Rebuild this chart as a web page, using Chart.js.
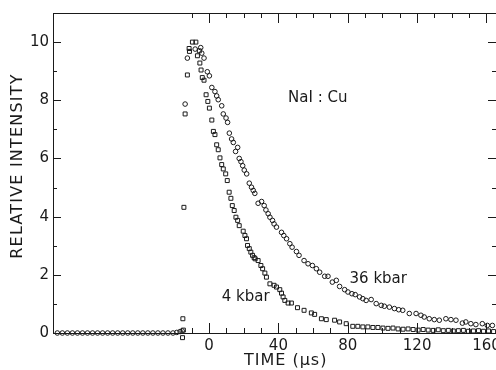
<!DOCTYPE html>
<html>
<head>
<meta charset="utf-8">
<script src="https://cdn.jsdelivr.net/npm/chart.js@4.4.1/dist/chart.umd.min.js"></script>
<style>
  html, body { margin: 0; padding: 0; background: #fff; }
  canvas { display: block; }
</style>
</head>
<body>
<canvas id="decayChart" width="496" height="370"></canvas>
<script>
/* Data: NaI:Cu luminescence decay */

// 36 kbar (circles)
const time36 = [
  -87.5, -84.6, -81.7, -78.8, -75.9, -73.0, -70.1, -67.2, -64.3, -61.4, -58.5, -55.6, -52.7,
  -49.8, -46.9, -44.0, -41.1, -38.2, -35.3, -32.4, -29.5, -26.6, -23.7, -20.8, -18.6, -16.7,
  -15.5, -13.8, -12.5, -8.0, -4.8, -4.2, -2.9, -1.0, 0.2, 1.6, 3.4, 4.4, 5.3, 7.3, 8.2, 9.8,
  10.7, 11.7, 13.0, 14.0, 15.3, 16.5, 17.4, 18.4, 19.4, 20.3, 21.7, 23.2, 24.5, 25.5, 26.4,
  28.3, 30.3, 31.8, 32.8, 34.1, 35.1, 36.6, 37.5, 38.9, 41.8, 43.1, 44.7, 46.6, 47.9, 50.4,
  51.9, 54.8, 57.1, 59.6, 61.9, 63.8, 66.7, 68.6, 71.1, 73.4, 75.3, 78.2, 80.1, 82.4, 84.3,
  86.8, 88.7, 90.6, 93.5, 96.4, 99.3, 101.1, 104.0, 106.9, 109.4, 111.7, 115.5, 119.4, 122.2,
  124.1, 127.0, 129.9, 132.8, 136.6, 139.5, 142.4, 146.1, 148.1, 151.0, 153.9, 157.6, 160.5, 163.4
];
const intensity36 = [
  0.0, 0.0, 0.0, 0.0, 0.0, 0.0, 0.0, 0.0, 0.0, 0.0, 0.0, 0.0, 0.0,
  0.0, 0.0, 0.0, 0.0, 0.0, 0.0, 0.0, 0.0, 0.0, 0.0, 0.0, 0.02, 0.05,
  0.07, 7.87, 9.45, 9.76, 9.81, 9.62, 9.45, 8.98, 8.84, 8.44, 8.30, 8.15, 8.02, 7.81, 7.53, 7.39,
  7.24, 6.87, 6.67, 6.55, 6.24, 6.38, 6.00, 5.89, 5.75, 5.60, 5.47, 5.15, 5.01, 4.90, 4.80,
  4.46, 4.52, 4.38, 4.23, 4.10, 3.98, 3.87, 3.75, 3.64, 3.46, 3.35, 3.24, 3.07, 2.95, 2.80,
  2.67, 2.49, 2.38, 2.32, 2.21, 2.09, 1.95, 1.95, 1.75, 1.81, 1.60, 1.49, 1.41, 1.35, 1.32,
  1.24, 1.18, 1.12, 1.15, 1.01, 0.95, 0.92, 0.89, 0.84, 0.80, 0.78, 0.67, 0.67, 0.61,
  0.55, 0.49, 0.46, 0.44, 0.49, 0.46, 0.44, 0.34, 0.38, 0.32, 0.29, 0.32, 0.26, 0.26
];

// 4 kbar (squares)
const time4 = [
  -15.3, -15.1, -14.8, -14.5, -13.8, -12.5, -11.5, -11.3, -9.6, -7.6, -6.7, -5.6, -5.3, -4.6,
  -3.9, -2.9, -1.7, -0.7, 0.2, 1.6, 2.5, 3.4, 4.4, 5.3, 6.3, 7.3, 8.2, 9.6, 10.5, 11.6, 12.6,
  13.4, 14.5, 15.5, 16.5, 17.4, 19.7, 20.7, 21.6, 22.2, 23.2, 24.1, 25.1, 26.0, 26.6, 28.3,
  29.9, 30.9, 32.2, 33.1, 35.1, 37.5, 38.9, 40.8, 41.8, 42.7, 43.7, 45.6, 47.5, 51.0, 54.8,
  59.0, 60.9, 64.8, 67.6, 72.4, 75.3, 79.1, 82.9, 85.8, 88.7, 91.6, 94.5, 97.4, 100.3, 103.2,
  106.1, 109.0, 111.9, 114.8, 117.7, 120.6, 123.5, 126.4, 129.3, 132.2, 135.1, 138.0, 140.9,
  143.8, 146.7, 149.6, 152.5, 155.4, 158.3, 161.2, 164.1
];
const intensity4 = [
  -0.16, 0.49, 0.10, 4.32, 7.53, 8.87, 9.78, 9.68, 10.0, 10.0, 9.53, 9.70, 9.28, 9.04,
  8.78, 8.69, 8.19, 7.96, 7.73, 7.32, 6.93, 6.82, 6.47, 6.30, 6.02, 5.79, 5.64, 5.47, 5.24, 4.84, 4.63,
  4.38, 4.21, 3.98, 3.87, 3.69, 3.50, 3.35, 3.24, 3.01, 2.90, 2.78, 2.67, 2.59, 2.55, 2.49,
  2.32, 2.21, 2.06, 1.92, 1.69, 1.64, 1.58, 1.49, 1.37, 1.24, 1.12, 1.03, 1.03, 0.87, 0.78,
  0.69, 0.64, 0.49, 0.46, 0.44, 0.38, 0.32, 0.23, 0.23, 0.21, 0.21, 0.19, 0.19, 0.17, 0.16,
  0.17, 0.14, 0.13, 0.14, 0.12, 0.10, 0.12, 0.10, 0.09, 0.11, 0.08, 0.09, 0.07,
  0.08, 0.09, 0.06, 0.07, 0.08, 0.06, 0.07, 0.05
];

// tick values
const xMajorTicks = [0, 40, 80, 120, 160];
const xMinorTicks = [-10, 10, 20, 30, 50, 60, 70, 90, 100, 110, 130, 140, 150];
const yMajorTicks = [0, 2, 4, 6, 8, 10];
const yMinorTicks = [1, 3, 5, 7, 9];

// text labels inside the plot
const plotLabels = [
  { text: 'NaI : Cu', x: 62.7, y: 8.07 },
  { text: '36 kbar', x: 97.6, y: 1.85 },
  { text: '4 kbar', x: 21.1, y: 1.24 }
];

const ink = '#1a1a1a';
const fontFamily = '"DejaVu Sans", sans-serif';

function toPoints(xs, ys) {
  return xs.map((v, i) => ({ x: v, y: ys[i] }));
}

// inward tick marks, top frame line, titles and annotations
const frameTicks = {
  id: 'frameTicks',
  afterDraw(chart) {
    const { ctx, chartArea: a, scales: { x, y } } = chart;
    ctx.save();
    ctx.strokeStyle = ink;
    ctx.lineWidth = 1;
    ctx.beginPath();
    ctx.moveTo(a.left, a.top + 0.5);
    ctx.lineTo(a.right, a.top + 0.5);

    const xTick = (v, len) => {
      const px = Math.round(x.getPixelForValue(v)) + 0.5;
      ctx.moveTo(px, a.bottom); ctx.lineTo(px, a.bottom - len);
      ctx.moveTo(px, a.top); ctx.lineTo(px, a.top + len);
    };
    const yTick = (v, len) => {
      const py = Math.round(y.getPixelForValue(v)) + 0.5;
      ctx.moveTo(a.left, py); ctx.lineTo(a.left + len, py);
      ctx.moveTo(a.right, py); ctx.lineTo(a.right - len, py);
    };
    xMajorTicks.forEach(v => xTick(v, 10));
    xMinorTicks.forEach(v => xTick(v, 5));
    yMajorTicks.forEach(v => yTick(v, 8));
    yMinorTicks.forEach(v => yTick(v, 4));
    ctx.stroke();

    ctx.fillStyle = ink;
    ctx.textAlign = 'center';
    ctx.textBaseline = 'middle';
    ctx.font = '15px ' + fontFamily;
    plotLabels.forEach(l => {
      ctx.fillText(l.text, x.getPixelForValue(l.x), y.getPixelForValue(l.y));
    });

    ctx.font = '16px ' + fontFamily;
    ctx.letterSpacing = '1px';
    ctx.fillText('TIME (\u03bcs)', x.getPixelForValue(44.2), 361);

    ctx.letterSpacing = '1.2px';
    ctx.translate(18, (a.top + a.bottom) / 2 - 7);
    ctx.rotate(-Math.PI / 2);
    ctx.fillText('RELATIVE INTENSITY', 0, 0);
    ctx.restore();
  }
};

const ctxDecay = document.getElementById('decayChart').getContext('2d');

const decayChart = new Chart(ctxDecay, {
  type: 'scatter',
  data: {
    datasets: [
      {
        label: '36 kbar',
        data: toPoints(time36, intensity36),
        pointStyle: 'circle',
        pointRadius: 2.3,
        borderWidth: 1,
        borderColor: ink,
        backgroundColor: 'rgba(0,0,0,0)',
        clip: false
      },
      {
        label: '4 kbar',
        data: toPoints(time4, intensity4),
        pointStyle: 'rect',
        pointRadius: 2.8,
        borderWidth: 1,
        borderColor: ink,
        backgroundColor: 'rgba(0,0,0,0)',
        clip: false
      }
    ]
  },
  options: {
    responsive: false,
    animation: false,
    devicePixelRatio: 1,
    layout: { autoPadding: false, padding: { top: 13, left: 0, right: 0, bottom: 0 } },
    plugins: {
      legend: { display: false },
      tooltip: { enabled: false }
    },
    scales: {
      x: {
        type: 'linear',
        position: 'bottom',
        min: -90,
        max: 165.5,
        afterBuildTicks: scale => { scale.ticks = xMajorTicks.map(v => ({ value: v })); },
        afterFit: scale => { scale.height = 37; scale.paddingLeft = 0; scale.paddingRight = 0; },
        grid: { display: false, drawTicks: false },
        border: { display: true, color: ink, width: 1 },
        ticks: {
          padding: 4,
          maxRotation: 0,
          autoSkip: false,
          color: ink,
          font: { family: fontFamily, size: 15 }
        }
      },
      y: {
        type: 'linear',
        position: 'left',
        min: 0,
        max: 11,
        afterBuildTicks: scale => { scale.ticks = yMajorTicks.map(v => ({ value: v })); },
        afterFit: scale => { scale.width = 53; scale.paddingTop = 0; scale.paddingBottom = 0; },
        grid: { display: false, drawTicks: false },
        border: { display: true, color: ink, width: 1 },
        ticks: {
          padding: 4,
          autoSkip: false,
          color: ink,
          font: { family: fontFamily, size: 15 }
        }
      }
    }
  },
  plugins: [frameTicks]
});
</script>
</body>
</html>
